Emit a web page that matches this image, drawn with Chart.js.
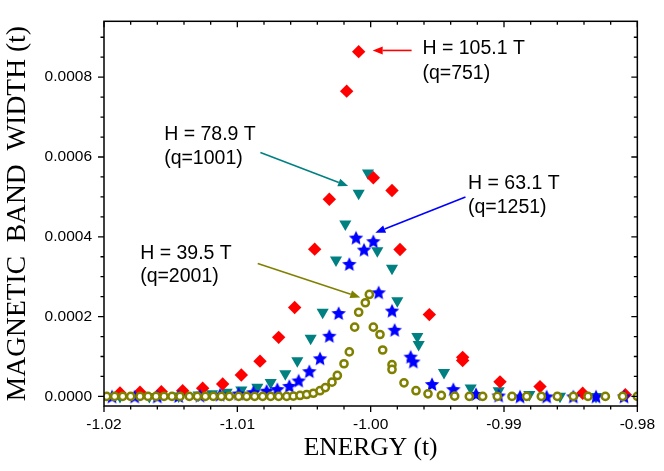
<!DOCTYPE html>
<html><head><meta charset="utf-8">
<script src="https://cdn.jsdelivr.net/npm/chart.js@4.4.1/dist/chart.umd.min.js"></script>
<style>html,body{margin:0;padding:0;background:#fff;}</style>
</head><body>
<canvas id="c" width="664" height="471"></canvas>
<script>
// ---- data ----
const xTicks = [-1.02, -1.01, -1.00, -0.99, -0.98];
const yTicks = [0, 0.0002, 0.0004, 0.0006, 0.0008];

// H = 105.1 T (q=751)
const redE = [-1.0188,-1.0173,-1.0157,-1.0141,-1.0126,-1.0111,-1.0097,-1.0083,-1.0069,-1.0057,
              -1.0042,-1.0031,-1.0018,-1.0009,-0.9998,-0.9984,-0.9978,-0.9956,-0.9931,-0.9931,
              -0.9903,-0.9873,-0.9841,-0.9809];
const redW = [0.0000088,0.0000103,0.0000119,0.0000143,0.0000203,0.000031,0.0000537,0.0000884,0.000148,0.000223,
              0.000369,0.000494,0.000765,0.000864,0.000548,0.000516,0.000368,0.000205,0.0000979,0.0000899,
              0.0000365,0.0000246,0.0000079,0.0000041];

// H = 78.9 T (q=1001)
const tealE = [-1.0188,-1.0166,-1.0144,-1.0129,-1.0119,-1.0108,-1.0097,-1.0085,-1.0075,-1.0064,
               -1.0055,-1.0045,-1.0036,-1.0026,-1.0019,-1.0009,-1.0002,-0.9995,-0.9984,-0.9980,
               -0.9965,-0.9964,-0.9945,-0.9925,-0.9904,-0.9881,-0.9858,-0.9831];
const tealW = [0,0,0.0000012,0.0000036,0.0000064,0.0000103,0.000016,0.0000232,0.0000351,0.0000566,
               0.0000896,0.000146,0.000211,0.000342,0.000432,0.000509,0.00056,0.000365,0.000321,0.00024,
               0.00015,0.00013,0.0000597,0.0000208,0.0000143,0.0000048,0.0000007,0];

// H = 63.1 T (q=1251)
const blueE = [-1.0194,-1.0177,-1.0160,-1.0144,-1.0128,-1.0113,-1.0099,-1.0088,-1.0078,-1.0070,
               -1.0061,-1.0054,-1.0046,-1.0038,-1.0031,-1.0024,-1.0016,-1.0011,-1.0005,-0.9998,
               -0.9994,-0.9984,-0.9982,-0.9970,-0.9968,-0.9954,-0.9938,-0.9921,-0.9904,-0.9888,
               -0.9868,-0.9848,-0.9831,-0.9810];
const blueW = [0,0,0,0.0000012,0.0000024,0.0000048,0.0000072,0.0000107,0.0000143,0.0000184,
               0.0000263,0.0000399,0.0000633,0.0000955,0.000152,0.000209,0.000332,0.000398,0.000368,0.000389,
               0.000261,0.000215,0.000167,0.0000996,0.0000876,0.000031,0.0000184,0.000006,0.0000024,0,
               0,0,0,0];

// H = 39.5 T (q=2001)
const oliveE = [-1.0198,-1.0192,-1.0186,-1.0180,-1.0173,-1.0167,-1.0161,-1.0155,-1.0149,-1.0143,
                -1.0136,-1.0130,-1.0124,-1.0118,-1.0112,-1.0106,-1.0099,-1.0093,-1.0087,-1.0081,
                -1.0075,-1.0069,-1.0063,-1.0058,-1.0053,-1.0048,-1.0043,-1.0038,-1.0034,-1.0029,
                -1.0025,-1.0020,-1.0016,-1.0012,-1.0009,-1.0004,-1.0001,-0.9998,-0.9993,-0.9991,
                -0.9984,-0.9984,-0.9975,-0.9966,-0.9957,-0.9947,-0.9937,-0.9926,-0.9916,-0.9905,
                -0.9894,-0.9883,-0.9872,-0.9860,-0.9848,-0.9837,-0.9824,-0.9811,-0.9800];
const oliveW = [0,0,0,0,0,0,0,0,0,0,
                0,0,0,0,0,0,0,0,0,0,
                0,0,0,0.0000007,0.0000024,0.0000048,0.0000079,0.0000143,0.0000222,0.0000358,
                0.0000525,0.0000819,0.0001115,0.0001736,0.0002109,0.0002347,0.0002555,0.0001736,0.0001552,0.0001163,
                0.0000795,0.0000676,0.0000341,0.0000143,0.0000064,0.0000024,0.0000007,0,0,0,
                0,0,0,0,0,0,0,0,0];

const RED = '#ff0000', TEAL = '#008080', BLUE = '#0000ff', OLIVE = '#808000';

function pts(E, W){ return E.map((e,i)=>({x:e, y:W[i]})); }

function makeStar(R, ratio, color){
  const s = Math.ceil(2*R + 2);
  const c = document.createElement('canvas');
  c.width = s; c.height = s;
  const g = c.getContext('2d');
  g.translate(s/2, s/2 + R*0.1);
  g.beginPath();
  for (let i=0;i<10;i++){
    const r = i%2===0 ? R : R*ratio;
    const a = -Math.PI/2 + i*Math.PI/5;
    const px = r*Math.cos(a), py = r*Math.sin(a);
    if (i===0) g.moveTo(px,py); else g.lineTo(px,py);
  }
  g.closePath();
  g.fillStyle = color; g.fill();
  return c;
}
const starImg = makeStar(7.6, 0.47, BLUE);

// annotation anchors in data units
const notes = [
  {lines:['H = 105.1 T','(q=751)'], color:RED, tx:-0.99612, ty:[0.000872,0.00081], from:[-0.99693,0.000867], to:[-0.99985,0.000867]},
  {lines:['H = 78.9 T','(q=1001)'], color:TEAL, tx:-1.01549, ty:[0.000655,0.000595], from:[-1.00827,0.000611], to:[-1.00169,0.000527]},
  {lines:['H = 63.1 T','(q=1251)'], color:BLUE, tx:-0.99270, ty:[0.000534,0.000474], from:[-0.99289,0.0005], to:[-0.99965,0.00041]},
  {lines:['H = 39.5 T','(q=2001)'], color:OLIVE, tx:-1.01729, ty:[0.000358,0.000299], from:[-1.00847,0.000333], to:[-1.00078,0.000248]}
];

const framePlugin = {
  id:'frame',
  afterDatasetsDraw(chart){
    const {ctx, chartArea:a, scales:{x, y}} = chart;
    ctx.save();
    ctx.strokeStyle = '#000';
    ctx.lineWidth = 1.5;
    ctx.strokeRect(a.left, a.top, a.right-a.left, a.bottom-a.top);
    ctx.lineWidth = 1.3;
    ctx.beginPath();
    for (let i=0;i<=20;i++){
      const px = x.getPixelForValue(-1.02 + i*0.002);
      const L = i%5===0 ? 6 : 3.5;
      ctx.moveTo(px, a.bottom); ctx.lineTo(px, a.bottom + L);
      ctx.moveTo(px, a.top); ctx.lineTo(px, a.top + L);
    }
    for (let i=0;i<=18;i++){
      const py = y.getPixelForValue(i*0.00005);
      const L = i%4===0 ? 6 : 3.5;
      ctx.moveTo(a.left, py); ctx.lineTo(a.left - L, py);
      ctx.moveTo(a.right, py); ctx.lineTo(a.right - L, py);
    }
    ctx.stroke();

    // annotations
    ctx.font = '19.5px "Liberation Sans", Arial, sans-serif';
    ctx.textAlign = 'left';
    ctx.textBaseline = 'middle';
    for (const n of notes){
      ctx.fillStyle = '#000';
      const tx = x.getPixelForValue(n.tx);
      n.lines.forEach((t,i)=> ctx.fillText(t, tx, y.getPixelForValue(n.ty[i])));
      const x0 = x.getPixelForValue(n.from[0]), y0 = y.getPixelForValue(n.from[1]);
      const x1 = x.getPixelForValue(n.to[0]), y1 = y.getPixelForValue(n.to[1]);
      const ang = Math.atan2(y1-y0, x1-x0);
      const HL = 10, HW = 4;
      const bx = x1 - HL*Math.cos(ang), by = y1 - HL*Math.sin(ang);
      ctx.strokeStyle = n.color; ctx.fillStyle = n.color; ctx.lineWidth = 1.6;
      ctx.beginPath(); ctx.moveTo(x0,y0); ctx.lineTo(bx,by); ctx.stroke();
      ctx.beginPath();
      ctx.moveTo(x1,y1);
      ctx.lineTo(bx + HW*Math.sin(ang), by - HW*Math.cos(ang));
      ctx.lineTo(bx - HW*Math.sin(ang), by + HW*Math.cos(ang));
      ctx.closePath(); ctx.fill();
    }
    ctx.restore();
  }
};

new Chart(document.getElementById('c'), {
  type:'scatter',
  data:{datasets:[
    {label:'H = 39.5 T', data:pts(oliveE, oliveW), pointStyle:'circle', pointRadius:3.6, borderWidth:2.5, borderColor:OLIVE, backgroundColor:'#ffffff'},
    {label:'H = 63.1 T', data:pts(blueE, blueW), pointStyle:starImg, pointRadius:7, borderColor:BLUE, backgroundColor:BLUE},
    {label:'H = 105.1 T', data:pts(redE, redW), pointStyle:'rectRot', pointRadius:6.7, borderWidth:0, borderColor:RED, backgroundColor:RED},
    {label:'H = 78.9 T', data:pts(tealE, tealW), pointStyle:'triangle', rotation:180, pointRadius:7, borderWidth:0, borderColor:TEAL, backgroundColor:TEAL}
  ]},
  options:{
    responsive:false, animation:false, events:[],
    layout:{padding:{top:3, right:19, left:0, bottom:0}},
    plugins:{legend:{display:false}, tooltip:{enabled:false}},
    scales:{
      x:{type:'linear', min:-1.02, max:-0.98,
         afterBuildTicks:s=>{ s.ticks = xTicks.map(v=>({value:v})); },
         afterFit:s=>{ s.height = 65; },
         grid:{display:false, drawTicks:false}, border:{display:false},
         ticks:{padding:9, color:'#000', autoSkip:false, maxRotation:0,
                font:{family:'"Liberation Sans", Arial, sans-serif', size:15.5},
                callback:v=>Number(v).toFixed(2)},
         title:{display:true, text:'ENERGY (t)', color:'#000',
                font:{family:'"Liberation Serif", "Times New Roman", serif', size:25.5},
                padding:{top:0, bottom:7}}
      },
      y:{type:'linear', min:-0.000024, max:0.00094,
         afterBuildTicks:s=>{ s.ticks = yTicks.map(v=>({value:v})); },
         afterFit:s=>{ s.width = 104; },
         grid:{display:false, drawTicks:false}, border:{display:false},
         ticks:{padding:12, color:'#000', autoSkip:false,
                font:{family:'"Liberation Sans", Arial, sans-serif', size:15.5},
                callback:v=>Number(v).toFixed(4)},
         title:{display:true, text:'MAGNETIC  BAND  WIDTH (t)', color:'#000',
                font:{family:'"Liberation Serif", "Times New Roman", serif', size:27.5},
                padding:{top:1, bottom:0}}
      }
    }
  },
  plugins:[framePlugin]
});
</script>
</body></html>
